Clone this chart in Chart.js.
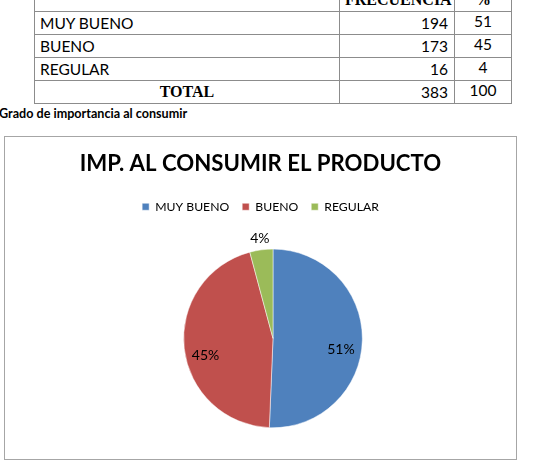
<!DOCTYPE html>
<html lang="es">
  <head>
    <meta charset="utf-8" />
    <title>IMP. AL CONSUMIR EL PRODUCTO</title>
    <style>
      * { margin: 0; padding: 0; }
      body { width: 546px; height: 472px; background: #fff; position: relative; overflow: hidden; font-family: Lato, sans-serif; }
      table { position: absolute; left: 34px; top: -12px; border-collapse: collapse; table-layout: fixed; width: 478px; font-size: 15.5px; color: #000; }
      tr { height: 23px; }
      td { border: 1px solid #8c8c8c; padding: 0 5px; line-height: 20px; }
      td.num { text-align: right; padding-right: 6px; }
      td.pct { text-align: center; vertical-align: top; line-height: 18px; }
      .serif { font-family: "Liberation Serif", serif; font-weight: bold; font-size: 16px; text-align: center; }
      .caption { position: absolute; left: -1px; top: 106px; font-weight: bold; font-size: 12.6px; }
      .chartBox { position: absolute; left: 4px; top: 136px; width: 511px; height: 322px; border: 1px solid #a6a6a6; }
    </style>
  </head>
  <body>
    <table>
      <colgroup><col style="width:305px" /><col style="width:115px" /><col style="width:57px" /></colgroup>
      <tr><td></td><td class="serif">FRECUENCIA</td><td class="serif">%</td></tr>
      <tbody id="rows"></tbody>
    </table>
    <div class="caption">Grado de importancia al consumir</div>
    <div class="chartBox"><canvas id="myChart" width="511" height="322"></canvas></div>
    <script src="https://cdn.jsdelivr.net/npm/chart.js/dist/chart.umd.min.js"></script>
    <script>
      // data
      const categories = ["MUY BUENO", "BUENO", "REGULAR"];
      const frecuencia = [194, 173, 16];
      const porcentaje = [51, 45, 4];
      const colors = ["#4F81BD", "#C0504D", "#9BBB59"];

      // table
      const rows = document.getElementById("rows");
      categories.forEach((c, i) => {
        const tr = document.createElement("tr");
        tr.innerHTML = `<td>${c}</td><td class="num">${frecuencia[i]}</td><td class="pct">${porcentaje[i]}</td>`;
        rows.appendChild(tr);
      });
      const total = frecuencia.reduce((a, b) => a + b, 0);
      const totalPct = porcentaje.reduce((a, b) => a + b, 0);
      const trTot = document.createElement("tr");
      trTot.innerHTML = `<td class="serif">TOTAL</td><td class="num">${total}</td><td class="pct">${totalPct}</td>`;
      rows.appendChild(trTot);

      // extra room below the legend, pie pushed a bit to the right
      const pieSpace = {
        id: "pieSpace",
        beforeInit(chart) {
          const origFit = chart.legend.fit;
          chart.legend.fit = function () {
            origFit.bind(chart.legend)();
            this.height += 26;
          };
        },
        afterLayout(chart) {
          const a = chart.chartArea;
          a.left += 25;
          a.width = a.right - a.left;
        },
      };

      // percent labels on slices
      const sliceLabels = {
        id: "sliceLabels",
        afterDatasetsDraw(chart) {
          const ctx = chart.ctx;
          const meta = chart.getDatasetMeta(0);
          ctx.save();
          ctx.font = "14px Lato";
          ctx.fillStyle = "#000";
          ctx.textAlign = "center";
          ctx.textBaseline = "middle";
          meta.data.forEach((arc, i) => {
            const p = arc.getProps(["x", "y", "startAngle", "endAngle", "outerRadius"], true);
            const mid = (p.startAngle + p.endAngle) / 2;
            const small = porcentaje[i] < 10;
            const r = small ? p.outerRadius + 11 : p.outerRadius * 0.76;
            const dy = small ? 0 : 10;
            ctx.fillText(porcentaje[i] + "%", p.x + Math.cos(mid) * r, p.y + Math.sin(mid) * r + dy);
          });
          ctx.restore();
        },
      };

      const config = {
        type: "pie",
        data: {
          labels: categories,
          datasets: [{
            data: frecuencia,
            backgroundColor: colors,
            borderColor: "#fff",
            borderWidth: 0.5,
          }],
        },
        options: {
          responsive: false,
          animation: false,
          layout: { padding: { top: 0, bottom: 31, left: 0, right: 0 } },
          plugins: {
            title: {
              display: true,
              text: "IMP. AL CONSUMIR EL PRODUCTO",
              color: "#000",
              font: { family: "Lato", size: 22.2, weight: "bold" },
              padding: { top: 14, bottom: 10 },
            },
            legend: {
              position: "top",
              labels: {
                color: "#000",
                font: { family: "Lato", size: 12.2 },
                boxWidth: 7,
                boxHeight: 7,
                padding: 13,
              },
            },
            tooltip: { enabled: false },
          },
        },
        plugins: [pieSpace, sliceLabels],
      };

      const myChart = new Chart(document.getElementById("myChart"), config);
    </script>
  </body>
</html>
